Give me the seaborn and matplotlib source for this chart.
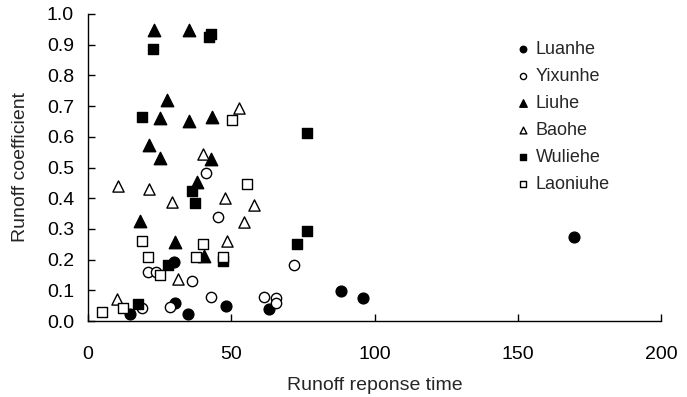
import matplotlib
matplotlib.use("Agg")
import matplotlib.pyplot as plt
import seaborn as sns
import pandas as pd

sns.set_style("ticks")
plt.rcParams['font.family'] = ['Liberation Sans', 'DejaVu Sans']

series_names = ["Luanhe", "Yixunhe", "Liuhe", "Baohe", "Wuliehe", "Laoniuhe"]

luanhe_x = [14.7, 30.1, 30.4, 35.0, 48.1, 63.3, 88.2, 95.9, 169.6]
luanhe_y = [0.022, 0.193, 0.060, 0.022, 0.050, 0.039, 0.098, 0.076, 0.274]

yixunhe_x = [18.7, 21.1, 23.7, 28.6, 36.2, 41.2, 42.9, 45.3, 61.4, 65.6, 65.6, 71.9]
yixunhe_y = [0.041, 0.160, 0.160, 0.045, 0.131, 0.481, 0.079, 0.340, 0.079, 0.074, 0.060, 0.182]

liuhe_x = [23.0, 35.4, 27.5, 25.1, 35.4, 43.4, 21.3, 25.1, 42.8, 38.2, 18.0, 30.4, 40.6]
liuhe_y = [0.948, 0.948, 0.720, 0.660, 0.652, 0.663, 0.573, 0.530, 0.527, 0.454, 0.327, 0.258, 0.213]

baohe_x = [10.4, 21.4, 29.2, 31.5, 10.0, 52.8, 40.3, 47.8, 57.9, 54.5, 48.4]
baohe_y = [0.440, 0.430, 0.389, 0.136, 0.072, 0.695, 0.544, 0.400, 0.378, 0.321, 0.260]

wuliehe_x = [22.8, 42.3, 42.9, 18.7, 76.3, 36.2, 37.3, 28.0, 17.6, 72.8, 76.5, 47.2]
wuliehe_y = [0.885, 0.925, 0.935, 0.665, 0.613, 0.424, 0.383, 0.182, 0.055, 0.250, 0.293, 0.196]

laoniuhe_x = [50.4, 55.4, 18.7, 21.1, 37.7, 40.0, 25.1, 4.8, 12.3, 47.2]
laoniuhe_y = [0.656, 0.445, 0.262, 0.207, 0.207, 0.250, 0.150, 0.030, 0.041, 0.209]

x_ticks = [0, 50, 100, 150, 200]
y_ticks = [0.0, 0.1, 0.2, 0.3, 0.4, 0.5, 0.6, 0.7, 0.8, 0.9, 1.0]

data = {
    "Luanhe": (luanhe_x, luanhe_y),
    "Yixunhe": (yixunhe_x, yixunhe_y),
    "Liuhe": (liuhe_x, liuhe_y),
    "Baohe": (baohe_x, baohe_y),
    "Wuliehe": (wuliehe_x, wuliehe_y),
    "Laoniuhe": (laoniuhe_x, laoniuhe_y),
}
styles = {
    "Luanhe": ("o", "black", 60),
    "Yixunhe": ("o", "white", 55),
    "Liuhe": ("^", "black", 80),
    "Baohe": ("^", "white", 65),
    "Wuliehe": ("s", "black", 55),
    "Laoniuhe": ("s", "white", 50),
}

fig = plt.figure(figsize=(6.87, 3.97), dpi=100)
ax = fig.add_axes([88/687, 1-321/397, (661-88)/687, (321-14)/397])

for name in series_names:
    xs, ys = data[name]
    df = pd.DataFrame({"x": xs, "y": ys})
    m, fc, s = styles[name]
    sns.scatterplot(data=df, x="x", y="y", ax=ax, marker=m, s=s,
                    facecolor=fc, edgecolor="black", linewidth=1.0,
                    label=name, zorder=3, clip_on=False)

ax.set_xlim(0, 200)
ax.set_ylim(0, 1.0)
ax.set_xticks(x_ticks)
ax.set_yticks(y_ticks)
ax.set_yticklabels([f"{v:.1f}" for v in y_ticks])
ax.tick_params(axis="both", direction="in", length=5, width=1, labelsize=14, colors="black")
ax.tick_params(axis="x", pad=18)
ax.tick_params(axis="y", pad=10)
for sp in ["top", "right"]:
    ax.spines[sp].set_visible(False)
for sp in ["left", "bottom"]:
    ax.spines[sp].set_color("black")
    ax.spines[sp].set_linewidth(1)

ax.set_xlabel("Runoff reponse time", fontsize=14, labelpad=10)
ax.set_ylabel("Runoff coefficient", fontsize=14, labelpad=13)

leg = ax.legend(loc="upper left", bbox_to_anchor=(0.728, 0.935), frameon=False,
                fontsize=13, markerscale=0.6, handletextpad=0.1, handlelength=1.2,
                labelspacing=0.55, borderaxespad=0)

fig.savefig("out.png", dpi=100)
